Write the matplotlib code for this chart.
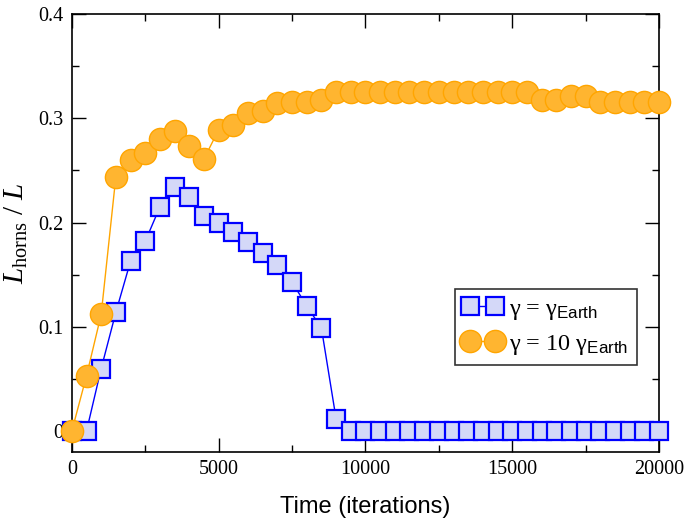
import numpy as np
import matplotlib
matplotlib.use("Agg")
import matplotlib.pyplot as plt
from matplotlib.ticker import MultipleLocator, FixedFormatter, FixedLocator

plt.rcParams['font.family'] = ['Liberation Serif', 'DejaVu Serif']
plt.rcParams['mathtext.fontset'] = 'custom'
plt.rcParams['mathtext.rm'] = 'Liberation Serif'
plt.rcParams['mathtext.it'] = 'Liberation Serif:italic'
plt.rcParams['mathtext.sf'] = 'Liberation Sans'

iterations = list(range(0, 20001, 500))

gamma_earth = [0.0, 0.0, 0.060, 0.114, 0.163, 0.182, 0.215, 0.234, 0.225, 0.206,
               0.200, 0.191, 0.181, 0.171, 0.159, 0.143, 0.120, 0.099, 0.012,
               0.0, 0.0, 0.0, 0.0, 0.0, 0.0, 0.0, 0.0, 0.0, 0.0, 0.0, 0.0,
               0.0, 0.0, 0.0, 0.0, 0.0, 0.0, 0.0, 0.0, 0.0, 0.0]

gamma_10earth = [0.0, 0.053, 0.112, 0.244, 0.260, 0.267, 0.280, 0.288, 0.273, 0.261,
                 0.289, 0.294, 0.305, 0.307, 0.315, 0.316, 0.316, 0.318, 0.325,
                 0.325, 0.325, 0.325, 0.325, 0.325, 0.325, 0.325, 0.325, 0.325,
                 0.325, 0.325, 0.325, 0.325, 0.318, 0.318, 0.321, 0.321, 0.316,
                 0.316, 0.316, 0.316, 0.316]

labels = [r'γ = γ$_{\mathsf{Earth}}$', r'γ = 10 γ$_{\mathsf{Earth}}$']
xticks = [0, 5000, 10000, 15000, 20000]
yticks = [0, 0.1, 0.2, 0.3, 0.4]
yticklabels = ['0', '0.1', '0.2', '0.3', '0.4']

fig = plt.figure(figsize=(6.84, 5.2), dpi=100)
ax = fig.add_axes([0.105, 0.1308, 0.8585, 0.8422])

ax.plot(iterations, gamma_earth, color='#0000ff', lw=1.0, marker='s', ms=13,
        mfc='#d4d8f8', mec='#0000ff', mew=1.6, label=labels[0], zorder=3, clip_on=False)
ax.plot(iterations, gamma_10earth, color='#ffa500', lw=1.0, marker='o', ms=16,
        mfc='#ffb530', mec='#ffa500', mew=1.0, label=labels[1], zorder=4, clip_on=False)

ax.set_xlim(0, 20000)
ax.set_ylim(-0.02, 0.4)
ax.xaxis.set_major_locator(FixedLocator(xticks))
ax.xaxis.set_minor_locator(MultipleLocator(2500))
ax.yaxis.set_major_locator(FixedLocator(yticks))
ax.yaxis.set_major_formatter(FixedFormatter(yticklabels))
ax.yaxis.set_minor_locator(MultipleLocator(0.05))
ax.tick_params(which='both', direction='in', top=True, right=True, labelsize=14.5, width=1.0)
ax.tick_params(which='major', length=10, pad=6)
ax.tick_params(which='minor', length=5)
for s in ax.spines.values():
    s.set_linewidth(1.2)

ax.set_xlabel('Time (iterations)', family='Liberation Sans', fontsize=17, labelpad=12)
ax.set_ylabel(r'$L_{\mathrm{horns}}\ /\ L$', fontsize=21, labelpad=6)

leg = ax.legend(loc='upper left', bbox_to_anchor=(0.652, 0.372), borderaxespad=0,
                numpoints=2, handlelength=1.6, handletextpad=0.3, fontsize=17.5,
                frameon=True, fancybox=False, edgecolor='black', borderpad=0.35,
                labelspacing=0.45)
leg.get_frame().set_linewidth(1.2)

fig.savefig('out.png', dpi=100)
